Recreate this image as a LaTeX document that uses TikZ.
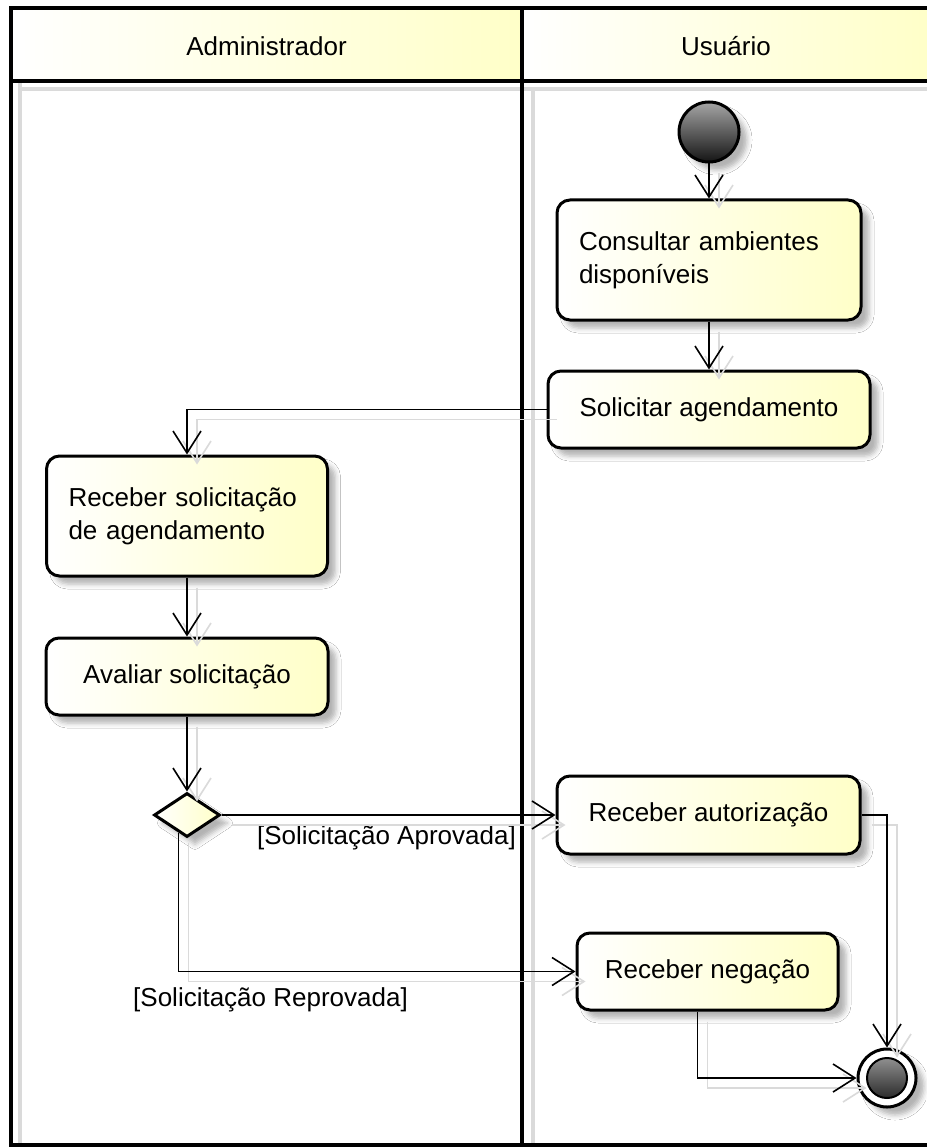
\documentclass[tikz,border=0pt]{standalone}
\usepackage{fontspec}
\setmainfont{Liberation Sans}
\usetikzlibrary{arrows.meta,shapes.geometric,shadows.blur,calc}
\definecolor{umlyel}{RGB}{255,255,200}
\definecolor{shd}{RGB}{218,218,218}
\begin{document}
\begin{tikzpicture}[x=1pt,y=-1pt,
  txt/.style={font=\fontsize{26}{33}\selectfont},
  softshadow/.style={blur shadow={shadow xshift=8pt, shadow yshift=-8pt, shadow blur radius=5pt, shadow opacity=30}},
  act/.style={txt, draw=black, line width=3pt, rounded corners=13pt, left color=white, right color=umlyel, softshadow, inner sep=0pt, align=center},
  actml/.style={act, align=left, inner xsep=22pt},
  header/.style={txt, draw=black, line width=3.5pt, left color=white, right color=umlyel, inner sep=0pt, text height=25pt, text depth=3pt},
  lane/.style={draw=black, line width=4pt},
  laneshadow/.style={draw=shd, line width=4pt},
  startnode/.style={circle, draw=black, line width=3pt, minimum size=60pt, inner sep=0pt, top color=black!35, bottom color=black!92, softshadow},
  endnode/.style={circle, draw=black, line width=3pt, minimum size=58pt, inner sep=0pt, fill=white, softshadow,
     path picture={\draw[line width=2pt, top color=black!35, bottom color=black!92] (path picture bounding box.center) circle (20pt);}},
  decision/.style={diamond, draw=black, line width=3pt, minimum width=66pt, minimum height=44pt, inner sep=0pt, left color=white, right color=umlyel, softshadow},
  flow/.style={draw=black, line width=1.6pt, -{Straight Barb[length=22pt, width=28pt, line width=1.6pt]},
     preaction={draw=shd, line width=1.6pt, transform canvas={shift={(10,10)}}}},
  lbl/.style={txt, inner sep=0pt}
]
\useasboundingbox (0,0) rectangle (926,1147);
\fill[white] (0,0) rectangle (926,1147);

% lane shadows
\draw[laneshadow] (20,17) -- (20,1147);
\draw[laneshadow] (533,90) -- (533,1147);
\draw[laneshadow] (20,89) -- (940,89);

% lanes
\draw[lane] (11,8) rectangle (522,1145);
\draw[lane] (522,8) rectangle (945,1145);

% headers
\node[header, minimum width=511pt, minimum height=73pt] (hadm) at (266.5,44.5) {Administrador};
\node[header, minimum width=408pt, minimum height=73pt] (husr) at (726,44.5) {Usuário};

% nodes
\node[startnode] (ini) at (709,132) {};
\node[actml, text width=260pt, minimum width=304pt, minimum height=120pt] (cons) at (709,260) {Consultar ambientes\\disponíveis};
\node[act, minimum width=322pt, minimum height=77pt] (sol) at (709,409.5) {Solicitar agendamento};
\node[actml, text width=237pt, minimum width=277pt, minimum height=120pt] (rsol) at (187,516) {Receber solicitação\\de agendamento};
\node[act, minimum width=282pt, minimum height=77pt] (aval) at (187,676.5) {Avaliar solicitação};
\node[decision] (dec) at (187,815) {};
\node[act, minimum width=303pt, minimum height=78pt] (raut) at (708.5,815) {Receber autorização};
\node[act, minimum width=261pt, minimum height=77pt] (rneg) at (707.5,971.5) {Receber negação};
\node[endnode] (fim) at (887,1078) {};

% labels
\node[lbl, anchor=east] (lapr) at (516,838) {[Solicitação Aprovada]};
\node[lbl, anchor=west] (lrep) at (133,1000) {[Solicitação Reprovada]};

% connectors
\draw[flow] (ini) -- (cons);
\draw[flow] (cons) -- (sol);
\draw[flow] (sol.west) -| (rsol.north);
\draw[flow] (rsol) -- (aval);
\draw[flow] (aval) -- (dec);
\draw[flow] (dec.east) -- (raut.west);
\draw[flow] (dec.245) |- (rneg.west);
\draw[flow] (raut.east) -| (fim.north);
\draw[flow] ([xshift=-10pt]rneg.south) |- (fim.west);
\end{tikzpicture}
\end{document}
